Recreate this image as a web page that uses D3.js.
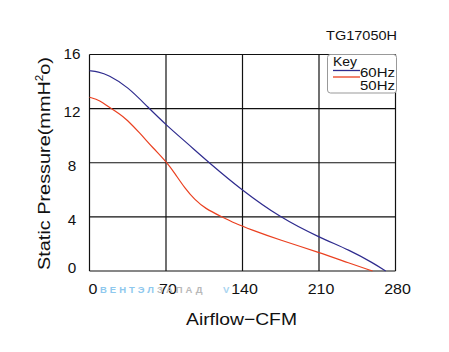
<!DOCTYPE html>
<html><head><meta charset="utf-8">
<script src="https://cdn.jsdelivr.net/npm/d3@7"></script>
<style>body{margin:0;background:#fff;} svg{display:block;font-family:"Liberation Sans",Arial,sans-serif;}</style>
</head><body>
<script>
const xTicks = [0, 70, 140, 210, 280];
const yTicks = [0, 4, 8, 12, 16];
const series60 = [[0,14.8],[8,14.72],[17,14.5],[35,13.62],[53.5,12.1],[70,10.8],[90,9.4],[110,7.96],[139,6.0],[174,3.97],[210,2.49],[238,1.55],[260,0.57],[271,0]];
const series50 = [[0,12.84],[9.6,12.62],[18,12.08],[27.6,11.62],[34,11.2],[46,10.2],[58,9.1],[70.6,8.05],[78.2,7.2],[87.4,6.1],[96.5,5.25],[105.7,4.63],[121,4.0],[133.2,3.52],[147,3.08],[174,2.29],[210,1.38],[238,0.57],[259,0]];
const seriesNames = ["60Hz", "50Hz"];
const colors = ["#2e2b8e", "#ea4020"];

const W = 449, H = 352;
const m = {left: 89.5, top: 54.5, right: 395.5, bottom: 271};
const svg = d3.select("body").append("svg").attr("width", W).attr("height", H);
const x = d3.scaleLinear().domain([0, 280]).range([m.left, m.right]);
const y = d3.scaleLinear().domain([0, 16]).range([m.bottom, m.top]);

function addText(px, py, str, size, anchor, target, rotate) {
  const t = svg.append("text").attr("x", 0).attr("y", 0).attr("text-anchor", anchor)
    .attr("font-size", size).attr("fill", "#111").text(str);
  let k = 1;
  if (target) { const w = t.node().getBBox().width; if (w > 0) k = target / w; }
  t.attr("transform", `translate(${px},${py})` + (rotate ? ` rotate(${rotate})` : "") + ` scale(${k},1)`);
  return t;
}

// grid
const g = svg.append("g");
xTicks.forEach(t => g.append("line").attr("x1", x(t)).attr("x2", x(t)).attr("y1", y(0)).attr("y2", y(16)).attr("stroke", "#111").attr("stroke-width", 1.2));
yTicks.forEach(t => g.append("line").attr("x1", x(0)).attr("x2", x(280)).attr("y1", y(t)).attr("y2", y(t)).attr("stroke", "#111").attr("stroke-width", 1.2));

// tick labels
xTicks.forEach(t => addText(x(t) + (t === 0 ? 3.5 : 2), 293.5, String(t), 15, "middle", String(t).length * 8.9));
yTicks.forEach(t => {
  const t2 = addText(72, y(t), String(t), 15, "middle", String(t).length * 8.5);
  t2.attr("dy", t === 16 ? "0.3em" : (t === 0 ? "0.1em" : "0.55em"));
});

// watermark
svg.append("text").attr("x", 100).attr("y", 293).attr("font-size", 9.5).attr("font-weight", "bold").attr("letter-spacing", 3).attr("fill", "#8ec8ee").text("ВЕНТЭЛ");
svg.append("text").attr("x", 157).attr("y", 293).attr("font-size", 9.5).attr("font-weight", "bold").attr("letter-spacing", 3).attr("fill", "#b9b9b9").text("ЗАПАД");
svg.append("text").attr("x", 223).attr("y", 293).attr("font-size", 9.5).attr("font-weight", "bold").attr("fill", "#a8d4f0").text("V");

// curves
const line = d3.line().x(d => x(d[0])).y(d => y(d[1])).curve(d3.curveBasis);
[series60, series50].forEach((s, i) => svg.append("path").datum(s).attr("d", line).attr("fill", "none").attr("stroke", colors[i]).attr("stroke-width", 1.2));

// legend
svg.append("rect").attr("x", 327.5).attr("y", 54.5).attr("width", 69).attr("height", 38.5).attr("rx", 3).attr("fill", "#fff").attr("stroke", "#999").attr("stroke-width", 1);
addText(333, 66, "Key", 12, "start", 24);
svg.append("line").attr("x1", 333).attr("x2", 360).attr("y1", 70.5).attr("y2", 70.5).attr("stroke", colors[0]).attr("stroke-width", 1.3);
svg.append("line").attr("x1", 333).attr("x2", 360).attr("y1", 77).attr("y2", 77).attr("stroke", colors[1]).attr("stroke-width", 1.3);
addText(360, 77, seriesNames[0], 12, "start", 35);
addText(360, 89.5, seriesNames[1], 12, "start", 35);

// title
addText(397, 40, "TG17050H", 12, "end", 71);

// axis titles
addText(241.5, 325, "Airflow−CFM", 17, "middle", 111);
const yt = svg.append("text").attr("x", 0).attr("y", 0).attr("text-anchor", "middle").attr("font-size", 17).attr("fill", "#111");
yt.append("tspan").text("Static Pressure(mmH");
yt.append("tspan").attr("font-size", 10).attr("dy", -7).text("2");
yt.append("tspan").attr("dy", 7).text("o)");
const yw = yt.node().getBBox().width;
yt.attr("transform", `translate(50,163.5) rotate(-90) scale(${213 / yw},1)`);
</script>
</body></html>
